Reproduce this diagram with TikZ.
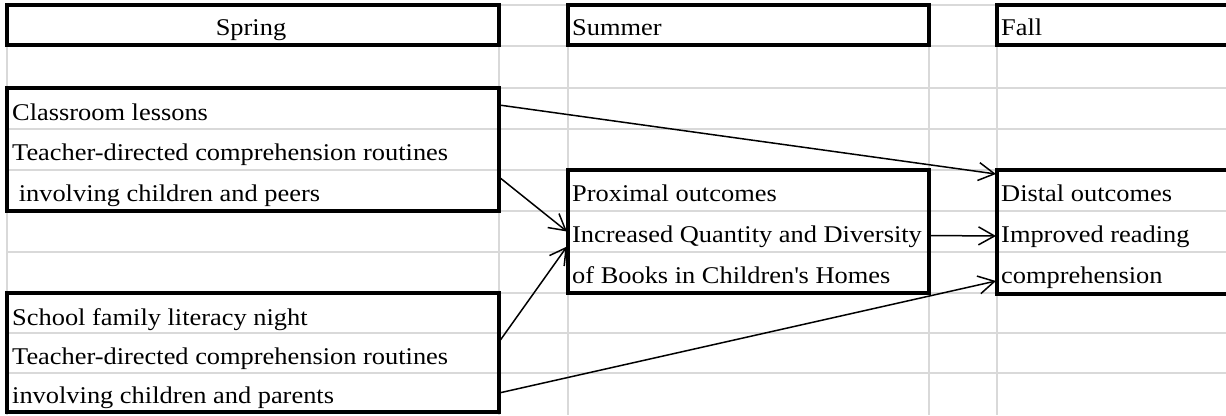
\documentclass[tikz,border=0pt]{standalone}
\usepackage{fontspec}
\setmainfont{Liberation Serif}[FakeStretch=1.1]
\usetikzlibrary{arrows.meta,calc}
\definecolor{gridgray}{HTML}{D9D9D9}
\begin{document}
\begin{tikzpicture}[x=1pt,y=-1pt,
  gridline/.style={draw=gridgray,line width=2pt},
  frame/.style={draw=black,line width=3.2pt,inner sep=0pt,outer sep=0pt,anchor=north west},
  txt/.style={anchor=base west,inner sep=0pt,font=\fontsize{24}{24}\selectfont},
  link/.style={line width=1.5pt,-{Straight Barb[length=16pt,width=18pt]}}]
\clip (0,0) rectangle (1226,415);
\fill[white] (0,0) rectangle (1226,415);
% spreadsheet grid
\foreach \y in {5,46,88,129,170,211,252,293,333,373} \draw[gridline] (7,\y) -- (1226,\y);
\foreach \x in {7,499,568,929,997} \draw[gridline] (\x,5) -- (\x,415);
% boxes
\node[frame,minimum width=492pt,minimum height=40pt] (spring) at (7,5) {};
\node[frame,minimum width=361pt,minimum height=40pt] (summer) at (568,5) {};
\node[frame,minimum width=260pt,minimum height=40pt] (fall) at (997,5) {};
\node[frame,minimum width=492pt,minimum height=123pt] (cls) at (7,88) {};
\node[frame,minimum width=361pt,minimum height=123pt] (prox) at (568,170) {};
\node[frame,minimum width=260pt,minimum height=124pt] (dst) at (997,170) {};
\node[frame,minimum width=492pt,minimum height=119pt] (sch) at (7,293) {};
% headers
\node[txt,anchor=base] (tspring) at (251,35) {Spring};
\node[txt] (tsummer) at (572,35) {Summer};
\node[txt] (tfall) at (1001,35) {Fall};
% classroom box
\node[txt] (c1) at (12,120) {Classroom lessons};
\node[txt] (c2) at (12,160) {Teacher-directed comprehension routines};
\node[txt] (c3) at (12,201) {\ involving children and peers};
% proximal
\node[txt] (p1) at (572,201) {Proximal outcomes};
\node[txt] (p2) at (572,242) {Increased Quantity and Diversity};
\node[txt] (p3) at (572,283) {of Books in Children\textquotesingle s Homes};
% distal
\node[txt] (d1) at (1001,201) {Distal outcomes};
\node[txt] (d2) at (1001,242) {Improved reading};
\node[txt] (d3) at (1001,283) {comprehension};
% school night
\node[txt] (s1) at (12,325) {School family literacy night};
\node[txt] (s2) at (12,364) {Teacher-directed comprehension routines};
\node[txt] (s3) at (12,403) {involving children and parents};
% arrows
\draw[link] ($(cls.north east)+(0,17)$) -- ($(dst.north west)+(-1,4)$);
\draw[link] ($(cls.north east)+(0,89)$) -- ($(prox.west)+(-1,0)$);
\draw[link] ($(sch.north east)+(0,49)$) -- ($(prox.west)+(-1,15)$);
\draw[link] ($(sch.north east)+(0,100)$) -- ($(dst.south west)+(-1,-13)$);
\draw[link] ($(prox.east)+(0,4)$) -- ($(dst.west)+(-1,4)$);
\end{tikzpicture}
\end{document}
